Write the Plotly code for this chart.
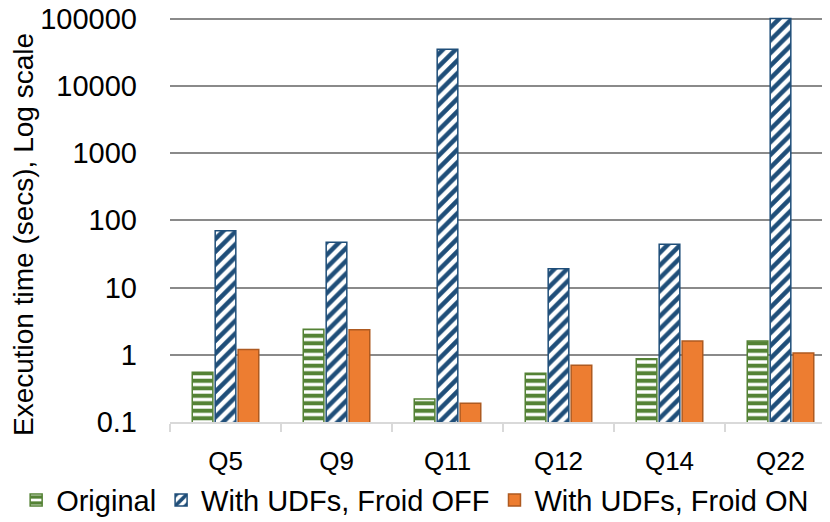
import plotly.graph_objects as go

QUERIES = ["Q5", "Q9", "Q11", "Q12", "Q14", "Q22"]
ORIGINAL = [0.55, 2.4, 0.22, 0.53, 0.87, 1.6]
FROID_OFF = [70, 47, 35000, 19, 44, 100000]
FROID_ON = [1.2, 2.35, 0.19, 0.7, 1.6, 1.06]
Y_TICKS = [0.1, 1, 10, 100, 1000, 10000, 100000]

FONT = "Liberation Sans"

fig = go.Figure()

fig.add_trace(go.Bar(
    x=QUERIES, y=ORIGINAL, name="Original",
    marker=dict(color="white",
                line=dict(color="#548235", width=1.5),
                pattern=dict(shape="-", fgcolor="#548235", bgcolor="white",
                             size=7.5, solidity=0.55, fillmode="replace")),
))
fig.add_trace(go.Bar(
    x=QUERIES, y=FROID_OFF, name="With UDFs, Froid OFF",
    marker=dict(color="white",
                line=dict(color="#1F4E79", width=1.5),
                pattern=dict(shape="/", fgcolor="#1F4E79", bgcolor="white",
                             size=9, solidity=0.5, fillmode="replace")),
))
fig.add_trace(go.Bar(
    x=QUERIES, y=FROID_ON, name="With UDFs, Froid ON",
    marker=dict(color="#ED7D31", line=dict(color="#AE5A21", width=1.5)),
))

# the page body adds an 8px offset, so margins are trimmed to match
fig.update_layout(
    width=830, height=522,
    margin=dict(l=162, r=2, t=9, b=108, autoexpand=False),
    paper_bgcolor="white", plot_bgcolor="white",
    font=dict(family=FONT, size=26, color="black"),
    barmode="group", bargap=0.38, bargroupgap=0.1,
    # x < 0 with left anchor lets the horizontal legend use the whole width
    legend=dict(orientation="h", x=-0.231, xanchor="left", y=-0.193, yanchor="middle",
                font=dict(size=29), itemwidth=30, tracegroupgap=0),
)

# y-axis title as a rotated annotation so it can sit where the original does
fig.add_annotation(
    text="Execution time (secs), Log scale", textangle=-90,
    xref="paper", yref="paper", x=-0.2207, y=0.4617,
    xanchor="center", yanchor="middle", showarrow=False,
    font=dict(size=28),
)

fig.update_xaxes(
    range=[-0.5, 5.5],
    showline=True, linecolor="#D9D9D9", linewidth=1.5,
    ticks="outside", tickson="boundaries", ticklen=8, tickcolor="#D9D9D9", tickwidth=1.5,
    showgrid=False, tickfont=dict(size=26), ticklabelstandoff=15,
)
fig.update_yaxes(
    type="log", range=[-1, 5.0223],
    tickvals=Y_TICKS, ticktext=[str(v) for v in Y_TICKS],
    showgrid=True, gridcolor="#8A8A8A", gridwidth=1.5,
    zeroline=False, showline=False, ticks="",
    tickfont=dict(size=29), ticklabelstandoff=32, ticklabeloverflow="allow",
)

fig.write_html("out.html")
